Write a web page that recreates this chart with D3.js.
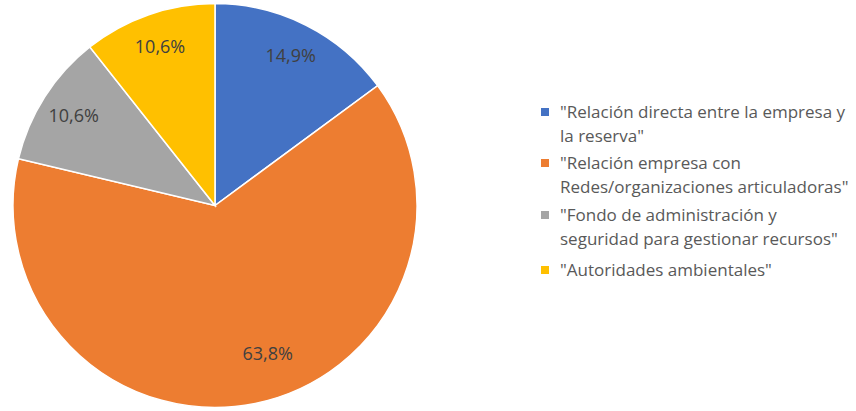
<!DOCTYPE html>
<html>
<head>
<meta charset="utf-8">
<script src="https://cdn.jsdelivr.net/npm/d3@7"></script>
<style>
  body { margin: 0; background: #fff; }
  svg text { font-family: "Open Sans", "Noto Sans", sans-serif; }
</style>
</head>
<body>
<div id="chart"></div>
<script>
const categories = [
  ["\"Relación directa entre la empresa y", "la reserva\""],
  ["\"Relación empresa con", "Redes/organizaciones articuladoras\""],
  ["\"Fondo de administración y", "seguridad para gestionar recursos\""],
  ["\"Autoridades ambientales\""]
];
const counts = [7, 30, 5, 5];
const colors = ["#4472c4", "#ed7d31", "#a5a5a5", "#ffc000"];

const width = 856, height = 411;
const cx = 215, cy = 205.5, radius = 202;

const svg = d3.select("#chart")
  .append("svg")
    .attr("width", width)
    .attr("height", height);

const total = d3.sum(counts);
const pie = d3.pie().sort(null)(counts);
const arc = d3.arc().innerRadius(0).outerRadius(radius);
const labelArc = d3.arc().innerRadius(radius * 0.83).outerRadius(radius * 0.83);

const g = svg.append("g")
  .attr("transform", `translate(${cx},${cy})`);

g.selectAll("path")
  .data(pie)
  .enter()
  .append("path")
    .attr("d", arc)
    .attr("fill", (d, i) => colors[i])
    .attr("stroke", "#fff")
    .attr("stroke-width", 1.5);

// percent labels (the big slice's label sits a bit off its middle, like Excel's best fit)
const labelPos = d => {
  if (d.value / total < 0.5) return labelArc.centroid(d);
  const a = (d.startAngle + d.endAngle) / 2 - 0.14, r = radius * 0.78;
  return [r * Math.sin(a), -r * Math.cos(a)];
};

g.selectAll("text.pct")
  .data(pie)
  .enter()
  .append("text")
    .attr("class", "pct")
    .attr("transform", d => `translate(${labelPos(d)})`)
    .attr("text-anchor", "middle")
    .attr("dy", "0.35em")
    .style("font-size", "18px")
    .style("fill", "#404040")
    .text(d => (d.value / total * 100).toFixed(1).replace(".", ",") + "%");

// legend
const legend = svg.append("g")
  .attr("transform", "translate(541,0)");

const rowY = [112, 163, 215, 270];
categories.forEach((lines, i) => {
  const item = legend.append("g")
    .attr("transform", `translate(0,${rowY[i]})`);
  item.append("rect")
    .attr("x", 0)
    .attr("y", -4)
    .attr("width", 8)
    .attr("height", 8)
    .attr("fill", colors[i]);
  lines.forEach((t, j) => {
    item.append("text")
      .attr("x", 19)
      .attr("y", j * 24)
      .attr("dy", "0.35em")
      .style("font-size", "17px")
      .style("fill", "#595959")
      .text(t);
  });
});
</script>
</body>
</html>
